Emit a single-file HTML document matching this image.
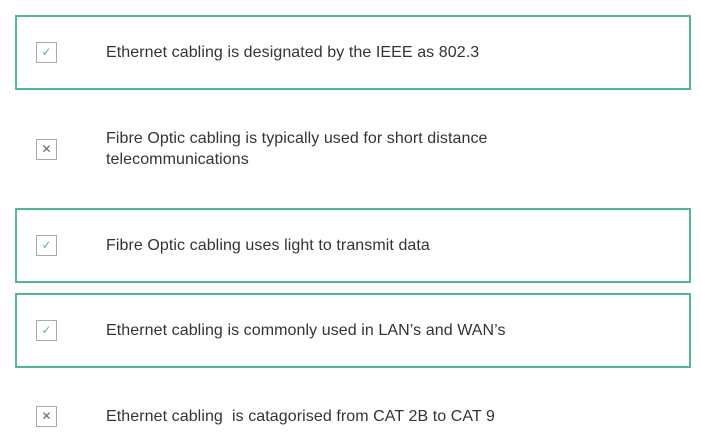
<!DOCTYPE html>
<html><head><style>
body{margin:0;width:701px;height:448px;background:#fff;position:relative;font-family:"Liberation Sans",sans-serif;color:#333;overflow:hidden}
.box{position:absolute;left:15px;width:672px;height:71px;border:2px solid #52b595;box-sizing:content-box}
.cb{position:absolute;left:36px;width:19px;height:19px;border:1px solid #aaa;background:#fff;font-size:12px;line-height:19px;text-align:center}
.ok{color:#52b595}
.x{color:#666}
.t{position:absolute;left:106px;font-size:16px;line-height:21px;letter-spacing:0.08px}
</style></head><body>
<div class="box" style="top:15px"></div>
<div class="box" style="top:208px"></div>
<div class="box" style="top:293px"></div>

<div class="cb ok" style="top:42px">✓</div>
<div class="t" style="top:42px">Ethernet cabling is designated by the IEEE as 802.3</div>

<div class="cb x" style="top:139px">✕</div>
<div class="t" style="top:128px">Fibre Optic cabling is typically used for short distance<br>telecommunications</div>

<div class="cb ok" style="top:235px">✓</div>
<div class="t" style="top:235px">Fibre Optic cabling uses light to transmit data</div>

<div class="cb ok" style="top:320px">✓</div>
<div class="t" style="top:320px">Ethernet cabling is commonly used in LAN’s and WAN’s</div>

<div class="cb x" style="top:406px">✕</div>
<div class="t" style="top:406px">Ethernet cabling&nbsp; is catagorised from CAT 2B to CAT 9</div>
</body></html>
